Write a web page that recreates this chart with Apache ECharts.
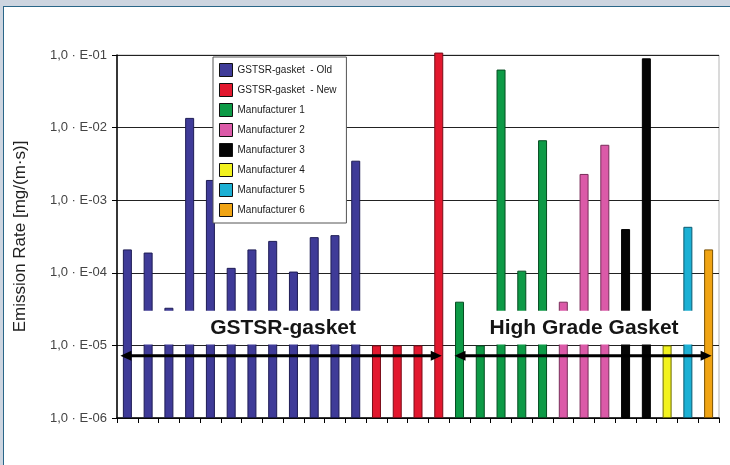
<!DOCTYPE html>
<html><head><meta charset="utf-8">
<script src="https://cdn.jsdelivr.net/npm/echarts@6/dist/echarts.min.js"></script>
<style>
html,body{margin:0;padding:0;width:730px;height:465px;overflow:hidden;background:#cdd5e0;}
#frame{position:absolute;left:3px;top:6px;width:727px;height:459px;background:#fff;border-left:1.5px solid #2a6688;border-top:1.5px solid #2a6688;box-sizing:border-box;}
#chart{position:absolute;left:0;top:0;width:730px;height:465px;}
</style></head><body>
<div id="frame"></div><div id="chart"></div>
<script>
// ---- data ----
const seriesNames = ['GSTSR-gasket  - Old','GSTSR-gasket  - New','Manufacturer 1','Manufacturer 2','Manufacturer 3','Manufacturer 4','Manufacturer 5','Manufacturer 6'];
const gstsrOld = [2.1e-4, 1.9e-4, 3.3e-5, 1.36e-2, 1.9e-3, 1.17e-4, 2.1e-4, 2.75e-4, 1.04e-4, 3.1e-4, 3.3e-4, 3.5e-3];
const gstsrNew = [1e-5, 1e-5, 1e-5, 1.08e-1];
const manufacturer1 = [4e-5, 1e-5, 6.3e-2, 1.07e-4, 6.7e-3];
const manufacturer2 = [4e-5, 2.3e-3, 5.8e-3];
const manufacturer3 = [4.0e-4, 9.0e-2];
const manufacturer4 = [1e-5];
const manufacturer5 = [4.3e-4];
const manufacturer6 = [2.1e-4];
const yTickLabels = ['1,0 · E-06','1,0 · E-05','1,0 · E-04','1,0 · E-03','1,0 · E-02','1,0 · E-01'];
const groupLabels = ['GSTSR-gasket', 'High Grade Gasket'];
const yAxisName = 'Emission Rate [mg/(m·s)]';

const groups = [gstsrOld, gstsrNew, manufacturer1, manufacturer2, manufacturer3, manufacturer4, manufacturer5, manufacturer6];
const colors = ['#3f3b98','#e2182e','#0d9a46','#db5aa8','#050505','#f2f21e','#1cb0d4','#f0a414'];
const borders = ['#1e1c55','#7a0c18','#064d22','#7a2d5a','#000000','#6b6b00','#0b5a70','#7a5000'];

const categories = [];
groups.forEach((g, gi) => g.forEach((v, i) => categories.push(seriesNames[gi] + ' #' + (i + 1))));
const total = categories.length;

let offset = 0;
const series = groups.map((g, gi) => {
  const data = new Array(total).fill('-');
  g.forEach((v, i) => { data[offset + i] = v; });
  offset += g.length;
  return {
    name: seriesNames[gi], type: 'bar', data: data,
    barWidth: 9, barGap: '-100%', clip: false, z: 2,
    itemStyle: { color: colors[gi], borderColor: borders[gi], borderWidth: 1 }
  };
});

const chart = echarts.init(document.getElementById('chart'), null, { renderer: 'canvas' });
chart.setOption({
  animation: false,
  backgroundColor: 'transparent',
  textStyle: { fontFamily: 'Liberation Sans' },
  grid: { left: 117, top: 55, right: 11, bottom: 47, show: true, borderColor: '#b5b5b5', borderWidth: 1 },
  legend: {
    orient: 'vertical', left: 213, top: 57, padding: [6, 10, 6, 6],
    itemWidth: 13, itemHeight: 13, itemGap: 6, icon: 'rect',
    backgroundColor: '#fff', borderColor: '#555', borderWidth: 1,
    itemStyle: { borderColor: '#111', borderWidth: 1 },
    textStyle: { fontSize: 10, color: '#1a1a1a', fontFamily: 'Liberation Sans' },
    data: seriesNames, z: 50
  },
  xAxis: {
    type: 'category', data: categories, boundaryGap: true,
    axisLine: { lineStyle: { color: '#000', width: 1.5 } },
    axisTick: { show: true, interval: 0, length: 5, lineStyle: { color: '#000' } },
    axisLabel: { show: false }, splitLine: { show: false }
  },
  yAxis: {
    type: 'log', logBase: 10, min: 1e-6, max: 1e-1, startValue: 1e-6,
    name: yAxisName, nameLocation: 'middle', nameGap: 88,
    nameTextStyle: { fontSize: 17, color: '#222', fontFamily: 'Liberation Sans' },
    axisLine: { show: true, lineStyle: { color: '#000', width: 1.5 } },
    axisTick: { show: true, length: 5, lineStyle: { color: '#000' } },
    axisLabel: { fontSize: 13, color: '#444', margin: 10,
      formatter: v => yTickLabels[Math.round(Math.log10(v)) + 6] },
    splitLine: { show: true, lineStyle: { color: ['#222','#222','#222','#222','#222','#b5b5b5'], width: 1 } }
  },
  series: series
});

// ---- annotations positioned through the axes ----
const px = (i, v) => chart.convertToPixel({ gridIndex: 0 }, [i, v]);
const step = px(1, 1e-5)[0] - px(0, 1e-5)[0];
const yTop = px(0, 3e-5)[1];
const yBot = px(0, 1e-5)[1] - 1;
const yArrow = px(0, 7.2e-6)[1];
const boxes = [[0, 14], [16, 27]];
const graphics = [];
boxes.forEach((b, k) => {
  const x1 = px(b[0], 1e-5)[0] + step / 2;
  const x2 = px(b[1], 1e-5)[0] + step / 2;
  graphics.push({ type: 'rect', z: 20, shape: { x: x1, y: yTop, width: x2 - x1, height: yBot - yTop }, style: { fill: '#fff' } });
  graphics.push({ type: 'text', z: 21, style: { text: groupLabels[k], x: (x1 + x2) / 2, y: (yTop + yBot) / 2 + 1, align: 'center', verticalAlign: 'middle', fontSize: 21, fontWeight: 'bold', fontFamily: 'Liberation Sans', fill: '#151515' } });
});
function arrow(xa, xb, y) {
  const L = 11, W = 5;
  graphics.push({ type: 'line', z: 22, shape: { x1: xa + 4, y1: y, x2: xb - 4, y2: y }, style: { stroke: '#000', lineWidth: 3 } });
  graphics.push({ type: 'polygon', z: 22, shape: { points: [[xa, y], [xa + L, y - W], [xa + L, y + W]] }, style: { fill: '#000' } });
  graphics.push({ type: 'polygon', z: 22, shape: { points: [[xb, y], [xb - L, y - W], [xb - L, y + W]] }, style: { fill: '#000' } });
}
arrow(px(0, 1e-5)[0] - 7, px(15, 1e-5)[0] + 3, yArrow);
arrow(px(16, 1e-5)[0] - 5, px(28, 1e-5)[0] + 3, yArrow);
chart.setOption({ graphic: graphics });
</script>
</body></html>
